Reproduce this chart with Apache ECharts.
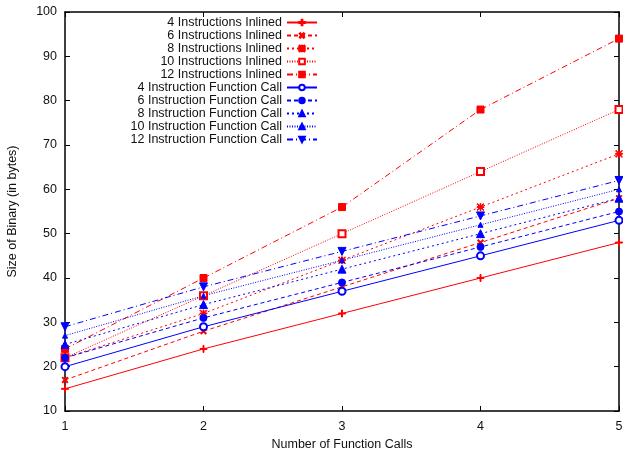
<!DOCTYPE html>
<html>
<head>
<meta charset="utf-8">
<script src="https://cdn.jsdelivr.net/npm/echarts@6/dist/echarts.min.js"></script>
<style>
  html, body { margin: 0; padding: 0; background: #fff; }
  #main { width: 623px; height: 451px; }
</style>
</head>
<body>
<div id="main"></div>
<script>
var calls = [1, 2, 3, 4, 5];

var inlined4 = [15, 24, 32, 40, 48];
var inlined6 = [17, 28, 38, 48, 58];
var inlined8 = [22, 32, 44, 56, 68];
var inlined10 = [22, 36, 50, 64, 78];
var inlined12 = [24, 40, 56, 78, 94];

var call4 = [20, 29, 37, 45, 53];
var call6 = [22, 31, 39, 47, 55];
var call8 = [25, 34, 42, 50, 58];
var call10 = [27, 36, 44, 52, 60];
var call12 = [29, 38, 46, 54, 62];

var PLUS = 'path://M4.3,0H5.7V4.3H10V5.7H5.7V10H4.3V5.7H0V4.3H4.3Z';
var STAR = 'path://M4.4,0H5.6V4.4H10V5.6H5.6V10H4.4V5.6H0V4.4H4.4Z' +
  'M0.8,0L10,9.2L9.2,10L0,0.8Z M9.2,0L10,0.8L0.8,10L0,9.2Z';

var chartDom = document.getElementById('main');
var myChart = echarts.init(chartDom);
var option;

function mk(name, values, color, dash, symbol, size, rotate) {
  return {
    name: name,
    type: 'line',
    data: calls.map(function (c, i) { return [c, values[i]]; }),
    symbol: symbol,
    symbolSize: size,
    symbolRotate: rotate || 0,
    showAllSymbol: true,
    animation: false,
    itemStyle: { color: color, borderColor: color, borderWidth: 1 },
    lineStyle: { color: color, width: 1, type: dash }
  };
}

var red = '#ff0000';
var blue = '#0000ff';

var seriesList = [
  mk('4 Instructions Inlined', inlined4, red, 'solid', PLUS, 7),
  mk('6 Instructions Inlined', inlined6, red, [4, 3], PLUS, 7, 45),
  mk('8 Instructions Inlined', inlined8, red, [2, 3], STAR, 7),
  mk('10 Instructions Inlined', inlined10, red, [1, 1.5], 'emptyRect', 7),
  mk('12 Instructions Inlined', inlined12, red, [6, 3, 1, 3], 'rect', 7),
  mk('4 Instruction Function Call', call4, blue, 'solid', 'emptyCircle', 7),
  mk('6 Instruction Function Call', call6, blue, [4, 3], 'circle', 7),
  mk('8 Instruction Function Call', call8, blue, [2, 3], 'triangle', 8),
  mk('10 Instruction Function Call', call10, blue, [1, 1.5], 'triangle', 5),
  mk('12 Instruction Function Call', call12, blue, [6, 3, 1, 3], 'triangle', 8, 180)
];

var axisCommon = {
  axisLine: { lineStyle: { color: '#000', width: 1.5 } },
  axisTick: { inside: true, length: 5, lineStyle: { color: '#000' } },
  splitLine: { show: false }
};

var font = 'Liberation Sans, Arial, sans-serif';

option = {
  backgroundColor: '#fff',
  animation: false,
  textStyle: { fontFamily: font },
  grid: { left: 65, right: 4, top: 12, bottom: 40, outerBoundsMode: 'none', containLabel: false },
  legend: {
    orient: 'vertical',
    align: 'right',
    right: 305,
    top: 16,
    padding: 0,
    itemGap: 0,
    itemWidth: 30,
    itemHeight: 7,
    textStyle: { fontSize: 12.5, lineHeight: 12, color: '#111', fontFamily: font },
    data: seriesList.map(function (s) { return s.name; })
  },
  xAxis: [
    Object.assign({
      type: 'value', min: 1, max: 5, interval: 1,
      name: 'Number of Function Calls',
      nameLocation: 'middle', nameGap: 21,
      nameTextStyle: { fontSize: 12.5, color: '#111' },
      axisLabel: { fontSize: 12.5, color: '#111', margin: 9 }
    }, axisCommon),
    Object.assign({
      type: 'value', min: 1, max: 5, interval: 1, position: 'top',
      axisLabel: { show: false }
    }, axisCommon)
  ],
  yAxis: [
    Object.assign({
      type: 'value', min: 10, max: 100, interval: 10,
      name: 'Size of Binary (in bytes)',
      nameLocation: 'middle', nameGap: 46,
      nameTextStyle: { fontSize: 12.5, color: '#111' },
      axisLabel: { fontSize: 12.5, color: '#111', margin: 8 }
    }, axisCommon),
    Object.assign({
      type: 'value', min: 10, max: 100, interval: 10, position: 'right',
      axisLabel: { show: false }
    }, axisCommon)
  ],
  series: seriesList
};

option && myChart.setOption(option);
</script>
</body>
</html>
